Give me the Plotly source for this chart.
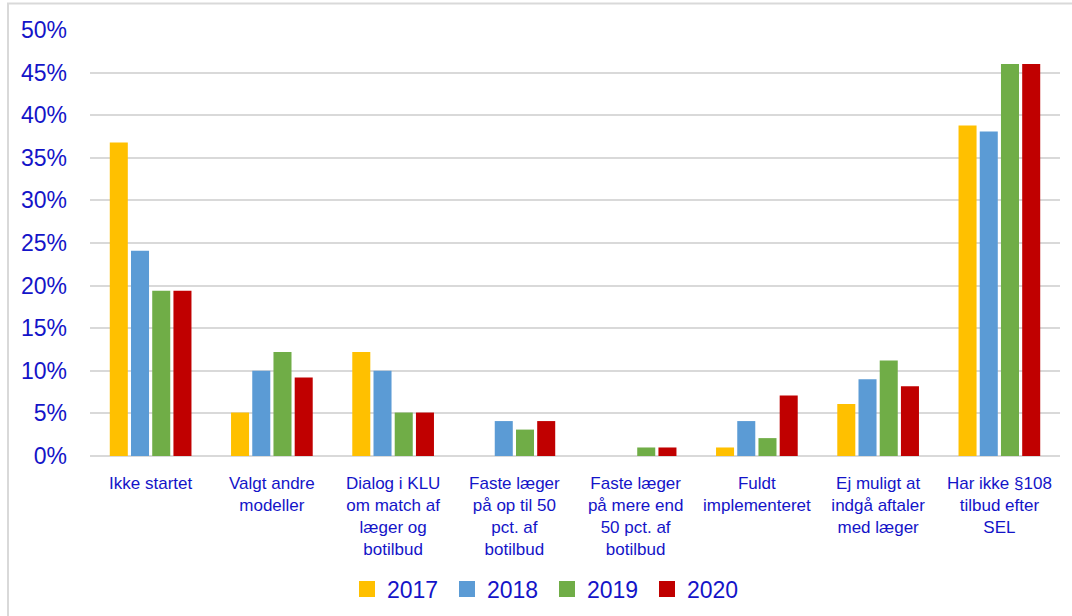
import plotly.graph_objects as go

categories = [
    "Ikke startet",
    "Valgt andre<br>modeller",
    "Dialog i KLU<br>om match af<br>læger og<br>botilbud",
    "Faste læger<br>på op til 50<br>pct. af<br>botilbud",
    "Faste læger<br>på mere end<br>50 pct. af<br>botilbud",
    "Fuldt<br>implementeret",
    "Ej muligt at<br>indgå aftaler<br>med læger",
    "Har ikke §108<br>tilbud efter<br>SEL",
]
series_names = ["2017", "2018", "2019", "2020"]
values_2017 = [36.8, 5.1, 12.2, 0.0, 0.0, 1.0, 6.1, 38.8]
values_2018 = [24.1, 10.0, 10.0, 4.1, 0.0, 4.1, 9.0, 38.1]
values_2019 = [19.4, 12.2, 5.1, 3.1, 1.0, 2.1, 11.2, 46.0]
values_2020 = [19.4, 9.2, 5.1, 4.1, 1.0, 7.1, 8.2, 46.0]
series_values = [values_2017, values_2018, values_2019, values_2020]
colors = ["#FFC000", "#5B9BD5", "#70AD47", "#C00000"]

y_ticks = [0, 5, 10, 15, 20, 25, 30, 35, 40, 45, 50]
y_tick_labels = [f"{v}%" for v in y_ticks]

TEXT_BLUE = "#1414C8"
FONT = "Liberation Sans, Arial, sans-serif"
W, H = 1072, 616
ML, MR, MT, MB = 90, 12, 30, 160

fig = go.Figure()
for name, vals, col in zip(series_names, series_values, colors):
    fig.add_trace(go.Bar(x=categories, y=vals, name=name, marker_color=col,
                         marker_line_width=0, showlegend=False))
# legend entries with larger square swatches
for name, col in zip(series_names, colors):
    fig.add_trace(go.Scatter(x=[None], y=[None], mode="markers", name=name,
                             marker=dict(symbol="square", size=16, color=col),
                             showlegend=True))

pw = W - ML - MR
ph = H - MT - MB
def px_to_paper_x(px):
    return (px - ML) / pw
def px_to_paper_y(py):
    return (H - MB - py) / ph

fig.update_layout(
    width=W, height=H,
    margin=dict(l=ML, r=MR, t=MT, b=MB, autoexpand=False),
    paper_bgcolor="white", plot_bgcolor="white",
    barmode="group", bargap=0.30, bargroupgap=0.15,
    font=dict(family=FONT, color=TEXT_BLUE),
    legend=dict(orientation="h", x=px_to_paper_x(347), xanchor="left",
                y=px_to_paper_y(589), yanchor="middle",
                font=dict(size=23, color=TEXT_BLUE, family=FONT),
                itemsizing="trace", traceorder="normal",
                entrywidth=55, entrywidthmode="pixels"),
    xaxis=dict(showgrid=False, showline=False, ticks="", automargin=False,
               tickfont=dict(size=17, color=TEXT_BLUE, family=FONT),
               ticklabelstandoff=15, tickangle=0),
    yaxis=dict(range=[0, 50], tickvals=y_ticks, ticktext=y_tick_labels,
               automargin=False,
               showgrid=True, gridcolor="#D9D9D9", gridwidth=2,
               zeroline=True, zerolinecolor="#D9D9D9", zerolinewidth=2,
               showline=False, ticks="",
               tickfont=dict(size=23, color=TEXT_BLUE, family=FONT),
               ticklabelstandoff=22),
    shapes=[dict(type="rect", xref="paper", yref="paper",
                 x0=px_to_paper_x(8), x1=px_to_paper_x(1090),
                 y0=px_to_paper_y(640), y1=px_to_paper_y(3.5),
                 line=dict(color="#D9D9D9", width=2), layer="below")],
)

fig.write_html("out.html",
               config={"displayModeBar": False},
               post_script="document.body.style.margin='0';"
                           "document.body.style.overflow='hidden';")
